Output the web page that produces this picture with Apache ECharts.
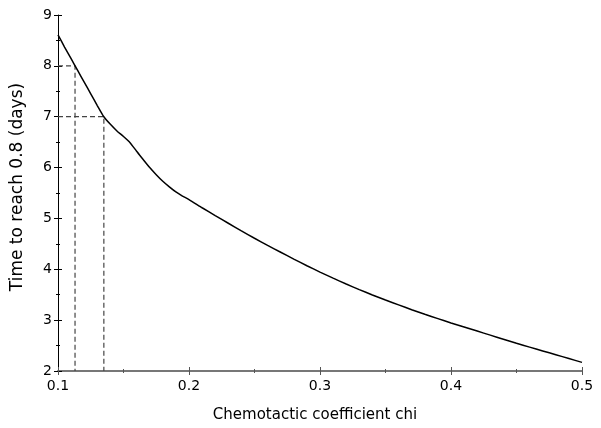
<!DOCTYPE html>
<html>
<head>
<meta charset="utf-8">
<script src="https://cdn.jsdelivr.net/npm/echarts@6/dist/echarts.min.js"></script>
<style>html,body{margin:0;padding:0;background:#fff}#c{width:601px;height:428px}</style>
</head>
<body>
<div id="c"></div>
<script>
var chiValues = [0.1,0.105,0.11,0.115,0.12,0.125,0.13,0.135,0.14,0.145,0.15,0.155,0.16,0.165,0.17,0.175,0.18,0.185,0.19,0.195,0.2,0.21,0.22,0.23,0.24,0.25,0.26,0.27,0.28,0.29,0.3,0.31,0.32,0.33,0.34,0.35,0.36,0.37,0.38,0.39,0.4,0.41,0.42,0.43,0.44,0.45,0.46,0.47,0.48,0.49,0.5];
var timeValues = [8.61,8.37,8.14,7.91,7.68,7.45,7.22,7.0,6.85,6.72,6.61,6.49,6.32,6.16,6.0,5.86,5.73,5.62,5.52,5.44,5.37,5.21,5.055,4.905,4.755,4.61,4.47,4.335,4.2,4.07,3.945,3.825,3.71,3.6,3.495,3.395,3.3,3.205,3.115,3.03,2.945,2.865,2.785,2.705,2.625,2.545,2.47,2.395,2.32,2.245,2.17];
var guide8 = [[0.1,8],[0.113,8],[0.113,2]];
var guide7 = [[0.1,7],[0.135,7],[0.135,2]];
var xTickLabels = ['0.1','0.2','0.3','0.4','0.5'];
var yTickLabels = ['2','3','4','5','6','7','8','9'];

var curve = chiValues.map(function(x,i){return [x,timeValues[i]];});
var font = 'DejaVu Sans';
function xAxisDef(inside, main){
  return {
    type:'value', min:0.1, max:0.5, interval:0.1, position:'bottom',
    name: main ? 'Chemotactic coefficient chi' : '',
    nameLocation:'middle', nameGap:37,
    nameTextStyle:{fontFamily:font,fontSize:15,color:'#000',padding:[0,10,0,0]},
    axisLine:{show:main,lineStyle:{color:'#777',width:2}},
    axisTick:{show:true,inside:inside,length:4,lineStyle:{color:'#555',width:1}},
    minorTick:{show:true,splitNumber:2,length:2,lineStyle:{color:'#555',width:1}},
    axisLabel:{show:main,fontFamily:font,fontSize:14,color:'#000',margin:8,
      formatter:function(v){var s=v.toFixed(1);return xTickLabels.indexOf(s)>=0?s:'';}},
    splitLine:{show:false}
  };
}
function yAxisDef(inside, main){
  return {
    type:'value', min:2, max:9, interval:1, position:'left',
    name: main ? 'Time to reach 0.8 (days)' : '',
    nameLocation:'middle', nameGap:32,
    nameTextStyle:{fontFamily:font,fontSize:17,color:'#000',padding:[0,0,0,12]},
    axisLine:{show:main,lineStyle:{color:'#000',width:1}},
    axisTick:{show:true,inside:inside,length:4,lineStyle:{color:'#000',width:1}},
    minorTick:{show:true,splitNumber:2,length:2,lineStyle:{color:'#000',width:1}},
    axisLabel:{show:main,fontFamily:font,fontSize:14,color:'#000',margin:6,
      formatter:function(v){var s=String(Math.round(v));return yTickLabels.indexOf(s)>=0?s:'';}},
    splitLine:{show:false}
  };
}
var chart = echarts.init(document.getElementById('c'));
chart.setOption({
  animation:false,
  backgroundColor:'#fff',
  grid:{left:58,right:19,top:15,bottom:55,containLabel:false},
  xAxis:[xAxisDef(false,true), xAxisDef(true,false)],
  yAxis:[yAxisDef(false,true), yAxisDef(true,false)],
  series:[
    {type:'line',data:guide8,xAxisIndex:0,yAxisIndex:0,showSymbol:false,symbol:'none',
      lineStyle:{color:'#444',width:1.2,type:[5,3]},z:1},
    {type:'line',data:guide7,xAxisIndex:0,yAxisIndex:0,showSymbol:false,symbol:'none',
      lineStyle:{color:'#444',width:1.2,type:[5,3]},z:1},
    {type:'line',data:curve,xAxisIndex:0,yAxisIndex:0,showSymbol:false,symbol:'none',smooth:0.2,
      lineStyle:{color:'#000',width:1.5},z:3}
  ]
});
</script>
</body>
</html>
